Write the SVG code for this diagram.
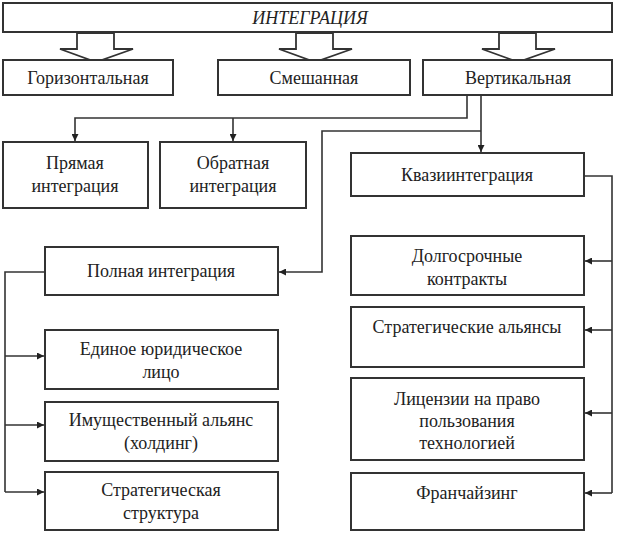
<svg xmlns="http://www.w3.org/2000/svg" width="617" height="533" viewBox="0 0 617 533">
<style>
.box{fill:#fff;stroke:#333;stroke-width:2}
.t{font-family:"Liberation Serif","Times New Roman",serif;font-size:18px;fill:#222;text-anchor:middle}
.c{fill:none;stroke:#333;stroke-width:1.6}
.blk{fill:#fff;stroke:#333;stroke-width:1.8;stroke-linejoin:miter}
</style>
<defs>
<marker id="ah" viewBox="0 0 10 10" refX="10" refY="5" markerWidth="7" markerHeight="7" markerUnits="userSpaceOnUse" orient="auto">
<path d="M0,0 L10,5 L0,10 z" fill="#222"/>
</marker>
</defs>
<rect width="617" height="533" fill="#fff"/>
<g id="integ"><rect class="box" x="3" y="3" width="609" height="29"/><text class="t" x="310" y="24" font-style="italic">ИНТЕГРАЦИЯ</text></g>
<g id="block-arrows">
<path class="blk" d="M77,33 H114 V49 H133 L96,62 L60,49 H77 Z"/>
<path class="blk" d="M296,33 H333 V49 H352 L315,62 L279,49 H296 Z"/>
<path class="blk" d="M499,33 H536 V49 H555 L518,62 L482,49 H499 Z"/>
</g>
<g id="horiz"><rect class="box" x="3" y="60" width="170" height="35"/><text class="t" x="88" y="84">Горизонтальная</text></g>
<g id="mixed"><rect class="box" x="218" y="60" width="192" height="35"/><text class="t" x="314" y="84">Смешанная</text></g>
<g id="vert"><rect class="box" x="423" y="60" width="189" height="35"/><text class="t" x="518" y="84">Вертикальная</text></g>
<g id="direct"><rect class="box" x="3" y="142" width="145" height="66"/><text class="t" x="75" y="169">Прямая</text><text class="t" x="75" y="192">интеграция</text></g>
<g id="reverse"><rect class="box" x="160" y="142" width="146" height="66"/><text class="t" x="233" y="169">Обратная</text><text class="t" x="233" y="192">интеграция</text></g>
<g id="quasi"><rect class="box" x="351" y="153" width="233" height="43"/><text class="t" x="467" y="181">Квазиинтеграция</text></g>
<g id="full"><rect class="box" x="45" y="247" width="233" height="48"/><text class="t" x="161" y="277">Полная интеграция</text></g>
<g id="legal"><rect class="box" x="45" y="330" width="233" height="59"/><text class="t" x="161" y="355">Единое юридическое</text><text class="t" x="161" y="378">лицо</text></g>
<g id="holding"><rect class="box" x="45" y="402" width="233" height="59"/><text class="t" x="161" y="426">Имущественный альянс</text><text class="t" x="161" y="449">(холдинг)</text></g>
<g id="strat-struct"><rect class="box" x="45" y="472" width="233" height="58"/><text class="t" x="161" y="496">Стратегическая</text><text class="t" x="161" y="519">структура</text></g>
<g id="longterm"><rect class="box" x="351" y="236" width="233" height="59"/><text class="t" x="467" y="262">Долгосрочные</text><text class="t" x="467" y="285">контракты</text></g>
<g id="alliances"><rect class="box" x="351" y="307" width="233" height="60"/><text class="t" x="467" y="333">Стратегические альянсы</text></g>
<g id="licenses"><rect class="box" x="351" y="378" width="233" height="82"/><text class="t" x="467" y="405">Лицензии на право</text><text class="t" x="467" y="427">пользования</text><text class="t" x="467" y="449">технологией</text></g>
<g id="franchise"><rect class="box" x="351" y="473" width="233" height="57"/><text class="t" x="467" y="499">Франчайзинг</text></g>
<g id="connectors">
<path class="c" d="M467,95 V118 H75 V141" marker-end="url(#ah)"/>
<path class="c" d="M233,118 V141" marker-end="url(#ah)"/>
<path class="c" d="M481,95 V152" marker-end="url(#ah)"/>
<path class="c" d="M481,131 H322 V272 H279" marker-end="url(#ah)"/>
<path class="c" d="M45,272 H5 V492"/>
<path class="c" d="M5,356 H44" marker-end="url(#ah)"/>
<path class="c" d="M5,425 H44" marker-end="url(#ah)"/>
<path class="c" d="M5,492 H44" marker-end="url(#ah)"/>
<path class="c" d="M584,176 H612 V493"/>
<path class="c" d="M612,261 H585" marker-end="url(#ah)"/>
<path class="c" d="M612,330 H585" marker-end="url(#ah)"/>
<path class="c" d="M612,413 H585" marker-end="url(#ah)"/>
<path class="c" d="M612,493 H585" marker-end="url(#ah)"/>
</g>
</svg>
